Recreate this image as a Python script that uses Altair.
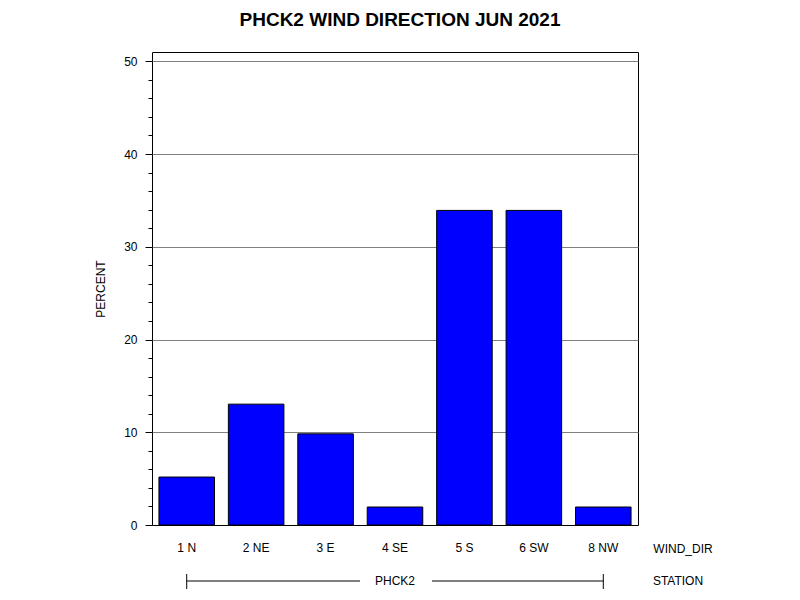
import altair as alt
import pandas as pd

wind_dir = ["1 N", "2 NE", "3 E", "4 SE", "5 S", "6 SW", "8 NW"]
percent = [5.17, 13.03, 9.83, 1.94, 33.92, 33.92, 1.94]
station = "PHCK2"
title_text = "PHCK2 WIND DIRECTION JUN 2021"

df = pd.DataFrame({"WIND_DIR": wind_dir, "PERCENT": percent})
one = pd.DataFrame({"k": [0]})

FONT = "Liberation Sans"

xscale = alt.Scale(domain=wind_dir, paddingInner=0.2, paddingOuter=0.1)

bars = alt.Chart(df).mark_bar(
    color="#0000FF", stroke="black", strokeWidth=1
).encode(
    x=alt.X("WIND_DIR:N", sort=None, scale=xscale,
            axis=alt.Axis(title=None, ticks=False, tickSize=0, domain=False,
                          labelAngle=0, labelPadding=17, labelFontSize=12,
                          labelFont=FONT, labelColor="black", grid=False)),
    y=alt.Y("PERCENT:Q",
            scale=alt.Scale(domain=[0, 51], nice=False),
            axis=alt.Axis(
                title="PERCENT", titleFont=FONT, titleFontSize=12,
                titleFontWeight="normal", titleColor="black", titlePadding=16,
                values=list(range(0, 51, 2)),
                labelExpr="datum.value % 10 === 0 ? datum.label : ''",
                labelFont=FONT, labelFontSize=12, labelColor="black",
                labelPadding=8,
                tickColor="black",
                tickSize={"condition": {"test": "datum.value % 10 === 0", "value": 7}, "value": 4},
                grid=True, gridColor="#808080",
                gridOpacity={"condition": {"test": "datum.value % 10 === 0 && datum.value > 0", "value": 1}, "value": 0},
                domain=False)),
)

base = alt.Chart(one)

title = base.mark_text(font=FONT, fontSize=19, fontWeight="bold", color="black",
                       baseline="alphabetic", align="center").encode(
    x=alt.value(248), y=alt.value(-26), text=alt.value(title_text))

wind_lbl = base.mark_text(font=FONT, fontSize=12, color="black",
                          baseline="middle", align="center").encode(
    x=alt.value(531), y=alt.value(497), text=alt.value("WIND_DIR"))

station_lbl = base.mark_text(font=FONT, fontSize=12, color="black",
                             baseline="middle", align="center").encode(
    x=alt.value(526), y=alt.value(529), text=alt.value("STATION"))

station_name = base.mark_text(font=FONT, fontSize=12, color="black",
                              baseline="middle", align="center").encode(
    x=alt.value(243), y=alt.value(529), text=alt.value(station))

line_left = base.mark_rule(color="black", strokeWidth=1).encode(
    x=alt.datum(wind_dir[0]), x2=alt.value(208), y=alt.value(529))
line_right = base.mark_rule(color="black", strokeWidth=1).encode(
    x=alt.datum(wind_dir[-1]), x2=alt.value(280), y=alt.value(529))
cap_left = base.mark_rule(color="black", strokeWidth=1).encode(
    x=alt.datum(wind_dir[0]), y=alt.value(522), y2=alt.value(537))
cap_right = base.mark_rule(color="black", strokeWidth=1).encode(
    x=alt.datum(wind_dir[-1]), y=alt.value(522), y2=alt.value(537))

chart = alt.layer(
    bars, title, wind_lbl, station_lbl, station_name,
    line_left, line_right, cap_left, cap_right
).properties(
    width=486, height=473,
    autosize=alt.AutoSizeParams(type="none"),
    padding={"left": 144, "top": 44, "right": 140, "bottom": 64},
    background="white",
).configure_view(
    stroke="black", strokeWidth=1
)

chart.save("out.html", embed_options={"renderer": "svg", "actions": False})
